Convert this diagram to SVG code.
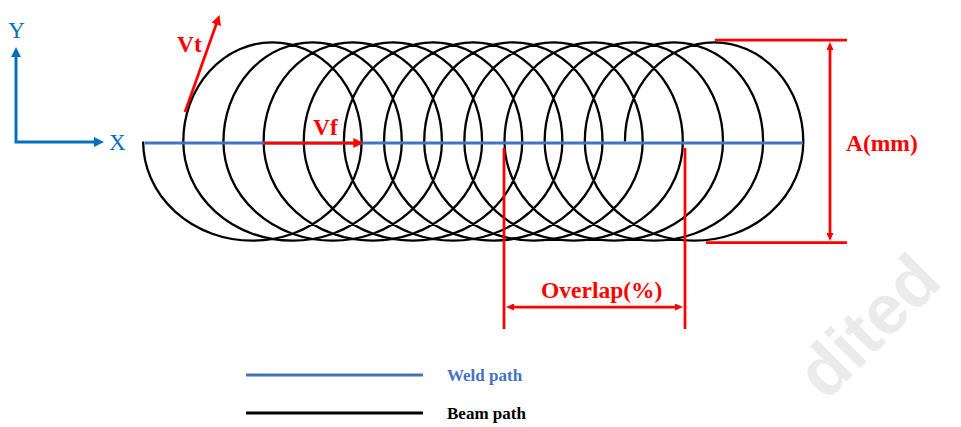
<svg xmlns="http://www.w3.org/2000/svg" width="961" height="427" viewBox="0 0 961 427">
<style>
.red{stroke:#FF0000;stroke-width:2.75;fill:none}
.blue{stroke:#4472C4;stroke-width:3;fill:none}
.axis{stroke:#0070C0;stroke-width:3;fill:none}
.beam{stroke:#000000;stroke-width:2.3;fill:none}
.lbl{font-family:"Liberation Serif","Times New Roman",serif;font-weight:bold;font-size:23.5px;fill:#FF0000}
.axl{font-family:"Liberation Serif","Times New Roman",serif;font-size:23px;fill:#0070C0}
.leg{font-family:"Liberation Serif","Times New Roman",serif;font-weight:bold;font-size:17px}
.wm{font-family:"Liberation Sans",Arial,sans-serif;font-weight:bold;font-size:70px;fill:#EBEBEB}
</style>
<defs>
<marker id="ahBig" viewBox="0 0 10 10" refX="6" refY="5" markerWidth="10" markerHeight="10" markerUnits="userSpaceOnUse" orient="auto-start-reverse"><path d="M0,0 L10,5 L0,10 z" fill="#FF0000"/></marker>
<marker id="ahSm" viewBox="0 0 8 7" refX="4" refY="3.5" markerWidth="8" markerHeight="7" markerUnits="userSpaceOnUse" orient="auto-start-reverse"><path d="M0,0 L8,3.5 L0,7 z" fill="#FF0000"/></marker>
<marker id="ahBlue" viewBox="0 0 10 10" refX="6" refY="5" markerWidth="10" markerHeight="10" markerUnits="userSpaceOnUse" orient="auto-start-reverse"><path d="M0,0 L10,5 L0,10 z" fill="#0070C0"/></marker>
</defs>
<rect width="961" height="427" fill="#FFFFFF"/>
<text class="wm" transform="translate(826,402) rotate(-45)">dited</text>

<g id="axes">
<path class="axis" d="M16 51 V142 H100" marker-start="url(#ahBlue)" marker-end="url(#ahBlue)"/>
<text class="axl" x="16.5" y="38" text-anchor="middle">Y</text>
<text class="axl" x="109" y="150">X</text>
</g>

<g id="beam-path">
<path class="beam" d="M143.15 141.5 a109.24 99.2 0 0 0 218.48 0 a89.16 99.2 0 0 0 -178.33 0 a109.24 99.2 0 0 0 218.48 0 a89.16 99.2 0 0 0 -178.33 0 a109.24 99.2 0 0 0 218.48 0 a89.16 99.2 0 0 0 -178.33 0 a109.24 99.2 0 0 0 218.48 0 a89.16 99.2 0 0 0 -178.33 0 a109.24 99.2 0 0 0 218.48 0 a89.16 99.2 0 0 0 -178.33 0 a109.24 99.2 0 0 0 218.48 0 a89.16 99.2 0 0 0 -178.33 0 a109.24 99.2 0 0 0 218.48 0 a89.16 99.2 0 0 0 -178.33 0 a109.24 99.2 0 0 0 218.48 0 a89.16 99.2 0 0 0 -178.33 0 a109.24 99.2 0 0 0 218.48 0 a89.16 99.2 0 0 0 -178.33 0 a109.24 99.2 0 0 0 218.48 0 a89.16 99.2 0 0 0 -178.33 0 a109.24 99.2 0 0 0 218.48 0 a89.16 99.2 0 0 0 -178.33 0 a109.24 99.2 0 0 0 218.48 0 a89.16 99.2 0 0 0 -178.33 0"/>
</g>

<g id="weld-path">
<line class="blue" x1="145" y1="143" x2="803" y2="143"/>
</g>

<g id="connectors">
<g id="vt">
<line class="red" x1="185" y1="112" x2="218.2" y2="18.8" marker-end="url(#ahBig)"/>
<text class="lbl" x="177" y="52">Vt</text>
</g>
<g id="vf">
<line class="red" x1="264" y1="143" x2="359.3" y2="143" marker-end="url(#ahBig)"/>
<text class="lbl" x="313" y="135">Vf</text>
</g>
<g id="dim-a">
<line class="red" x1="715" y1="40" x2="847" y2="40"/>
<line class="red" x1="706" y1="242.5" x2="847" y2="242.5"/>
<line class="red" x1="830" y1="46" x2="830" y2="237" marker-start="url(#ahSm)" marker-end="url(#ahSm)"/>
<text class="lbl" x="846" y="151">A(mm)</text>
</g>
<g id="dim-overlap">
<line class="red" x1="504" y1="148" x2="504" y2="329"/>
<line class="red" x1="685" y1="148" x2="685" y2="329"/>
<line class="red" x1="510" y1="307" x2="679" y2="307" marker-start="url(#ahSm)" marker-end="url(#ahSm)"/>
<text class="lbl" x="541" y="298">Overlap(%)</text>
</g>
</g>

<g id="legend">
<line class="blue" x1="246" y1="375" x2="423" y2="375"/>
<text class="leg" x="447" y="381" fill="#4472C4">Weld path</text>
<line stroke="#000000" stroke-width="3" x1="246" y1="413" x2="423" y2="413"/>
<text class="leg" x="447" y="419" fill="#000000">Beam path</text>
</g>
</svg>
